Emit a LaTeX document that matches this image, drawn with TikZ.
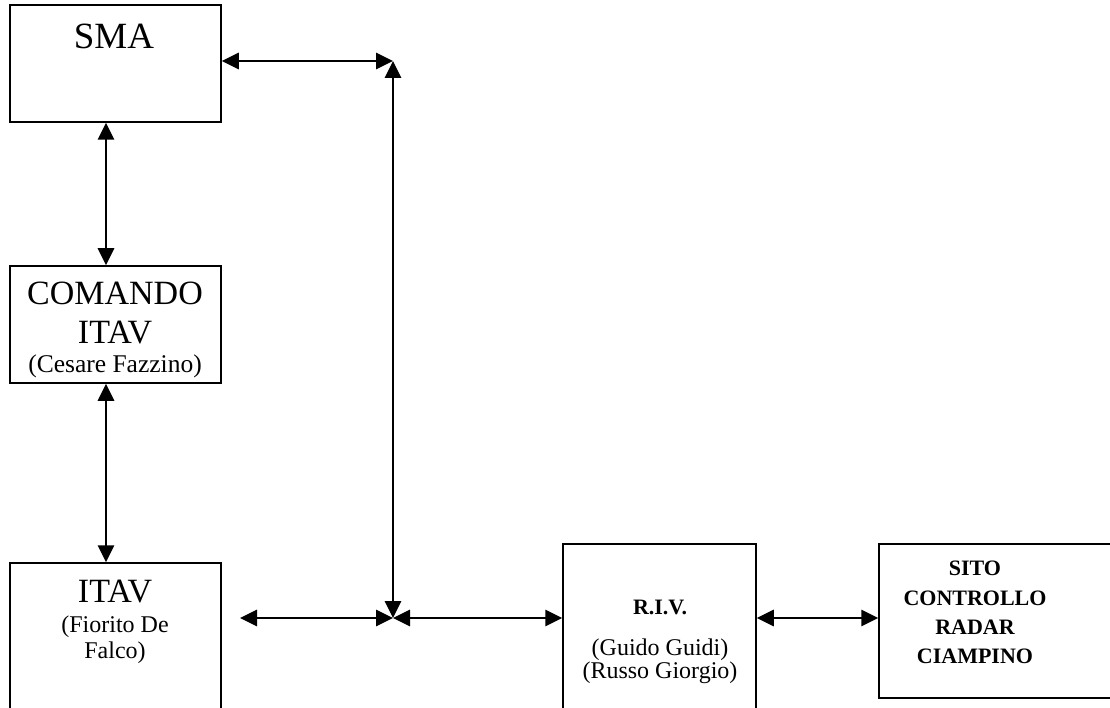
\documentclass[tikz,border=0pt]{standalone}
\usepackage{fontspec}
\setmainfont{Liberation Serif}
\usetikzlibrary{arrows.meta}
\tikzset{
  boxnode/.style={draw, line width=1.5pt, rectangle, inner sep=0pt},
  dbl/.style={line width=2.8pt, {Triangle[length=17pt,width=16pt]}-{Triangle[length=17pt,width=16pt]}},
  big/.style={anchor=base, inner sep=0pt, font=\fontsize{34}{40}\selectfont},
  small/.style={anchor=base, inner sep=0pt, font=\fontsize{24}{28}\selectfont},
  bsmall/.style={anchor=base, inner sep=0pt, font=\fontsize{22}{26}\selectfont\bfseries},
}
\begin{document}
\begin{tikzpicture}[x=1pt, y=-1pt]
\useasboundingbox (0,0) rectangle (1110,708);
\clip (0,0) rectangle (1110,708);
\fill[white] (0,0) rectangle (1110,708);
% boxes
\node[boxnode, minimum width=211pt, minimum height=117pt] (sma) at (115.5,63.5) {};
\node[boxnode, minimum width=211pt, minimum height=117pt] (cmd) at (115.5,324.5) {};
\node[boxnode, minimum width=211pt, minimum height=177pt] (itav) at (115.5,651.5) {};
\node[boxnode, minimum width=193pt, minimum height=196pt] (riv) at (659.5,642) {};
\node[boxnode, minimum width=251pt, minimum height=154pt] (sito) at (1004.5,621) {};
% texts
\node[big, font=\fontsize{37}{42}\selectfont] (tsma) at (114,49) {SMA};
\node[big] (tcmd1) at (115,305) {COMANDO};
\node[big] (tcmd2) at (115,343) {ITAV};
\node[small, font=\fontsize{25.5}{29}\selectfont] (tcmd3) at (115,372) {(Cesare Fazzino)};
\node[big] (titav1) at (115,602) {ITAV};
\node[small] (titav2) at (115,632) {(Fiorito De};
\node[small] (titav3) at (115,658) {Falco)};
\node[bsmall] (triv1) at (660,614) {R.I.V.};
\node[small] (triv2) at (660,655) {(Guido Guidi)};
\node[small] (triv3) at (660,678) {(Russo Giorgio)};
\node[bsmall] (tsito1) at (975,575) {SITO};
\node[bsmall] (tsito2) at (975,605) {CONTROLLO};
\node[bsmall] (tsito3) at (975,634) {RADAR};
\node[bsmall] (tsito4) at (975,663) {CIAMPINO};
% junctions
\coordinate (j1) at (393,61);
\coordinate (j2) at (393,618);
\coordinate (l1) at (240,618);
% connectors
\draw[dbl] (j1 -| sma.east) -- (j1);
\draw[dbl] (j1) -- (j2);
\draw[dbl] ([xshift=-9.5pt]sma.south) -- ([xshift=-9.5pt]cmd.north);
\draw[dbl] ([xshift=-9.5pt]cmd.south) -- ([xshift=-9.5pt]itav.north);
\draw[dbl] (l1) -- (j2);
\draw[dbl] (j2) -- (j2 -| riv.west);
\draw[dbl] (j2 -| riv.east) -- (j2 -| sito.west);
\end{tikzpicture}
\end{document}
